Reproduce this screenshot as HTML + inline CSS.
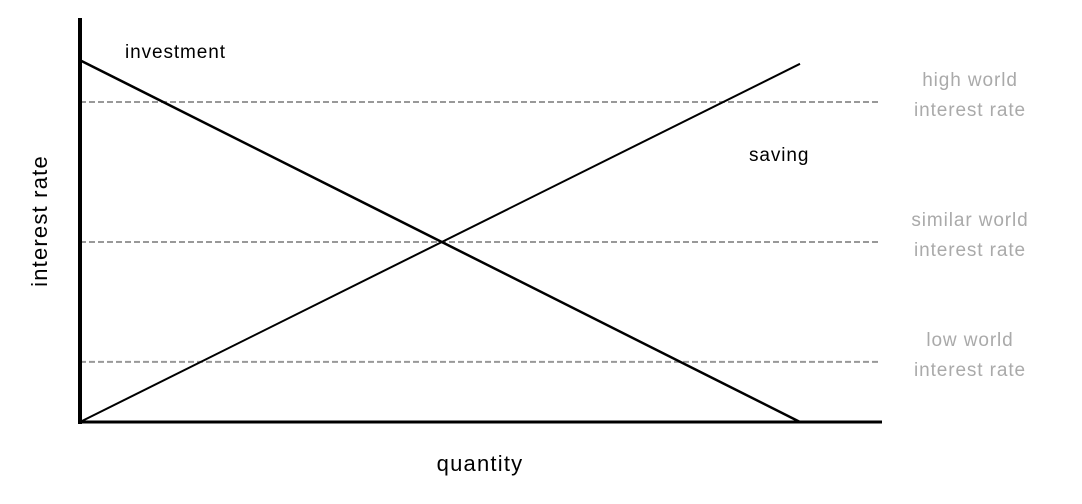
<!DOCTYPE html>
<html>
<head>
<meta charset="utf-8">
<style>
  html,body{margin:0;padding:0;background:#fff;}
  svg{display:block;font-family:"Liberation Sans",sans-serif;}
</style>
</head>
<body>
<svg id="chart" width="1082" height="504" viewBox="0 0 1082 504">
  <g id="marks"></g>
  <line x1="80" y1="18" x2="80" y2="424" stroke="#000" stroke-width="4"/>
  <line x1="80" y1="422" x2="882" y2="422" stroke="#000" stroke-width="3"/>
  <text x="480" y="471" font-size="22" letter-spacing="1.2" text-anchor="middle" fill="#000">quantity</text>
  <text x="0" y="0" font-size="22" letter-spacing="1.2" text-anchor="middle" fill="#000" transform="translate(47,221) rotate(-90)">interest rate</text>
  <text x="125" y="58" font-size="19" letter-spacing="0.9" fill="#000">investment</text>
  <text x="749" y="161" font-size="19" letter-spacing="0.9" fill="#000">saving</text>
</svg>
<script>
const seriesNames = ["investment", "saving"];
const investmentQ = [0, 100];
const investmentR = [100.5, 0];
const savingQ = [0, 100];
const savingR = [0, 99.5];
const worldRates = [88.9, 50, 16.7];
const worldLabels = [["high world","interest rate"],["similar world","interest rate"],["low world","interest rate"]];

function xs(q){ return 80 + q * 7.2; }
function ys(r){ return 422 - r * 3.6; }

const NS = "http://www.w3.org/2000/svg";
const g = document.getElementById('marks');
const svg = document.getElementById('chart');

worldRates.forEach((r, i) => {
  const l = document.createElementNS(NS, 'line');
  l.setAttribute('x1', xs(0)); l.setAttribute('x2', 880);
  l.setAttribute('y1', ys(r)); l.setAttribute('y2', ys(r));
  l.setAttribute('stroke', '#999'); l.setAttribute('stroke-width', '2');
  l.setAttribute('stroke-dasharray', '6,3');
  
  
  g.appendChild(l);
  const t = document.createElementNS(NS, 'text');
  t.setAttribute('x', 970); t.setAttribute('y', ys(r) - 16);
  t.setAttribute('font-size', '19'); t.setAttribute('fill', '#aaa');
  t.setAttribute('letter-spacing', '0.9');
  t.setAttribute('text-anchor', 'middle');
  
  
  worldLabels[i].forEach((s, j) => {
    const sp = document.createElementNS(NS, 'tspan');
    sp.setAttribute('x', 970); sp.setAttribute('dy', j === 0 ? 0 : 30);
    sp.textContent = s;
    t.appendChild(sp);
  });
  svg.appendChild(t);
});

function drawLine(qs, rs, name, w){
  const p = document.createElementNS(NS, 'polyline');
  p.setAttribute('points', qs.map((q, i) => xs(q) + ',' + ys(rs[i])).join(' '));
  p.setAttribute('fill', 'none'); p.setAttribute('stroke', '#000');
  p.setAttribute('stroke-width', w);
  
  
  g.appendChild(p);
}
drawLine(investmentQ, investmentR, 'investment-line', 2.5);
drawLine(savingQ, savingR, 'saving-line', 2);
</script>
</body>
</html>
